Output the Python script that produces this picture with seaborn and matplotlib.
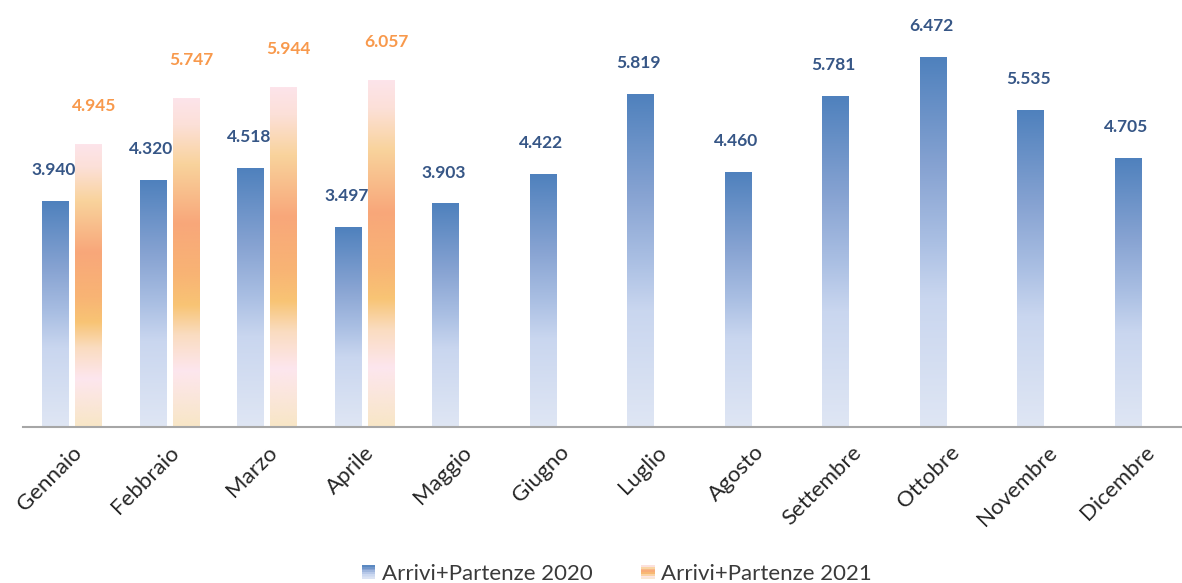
import matplotlib
matplotlib.use("Agg")
import matplotlib.pyplot as plt
import numpy as np
import pandas as pd
import seaborn as sns
from matplotlib.colors import LinearSegmentedColormap
from matplotlib.legend_handler import HandlerBase
from matplotlib.patches import Rectangle

MONTHS = ["Gennaio", "Febbraio", "Marzo", "Aprile", "Maggio", "Giugno",
          "Luglio", "Agosto", "Settembre", "Ottobre", "Novembre", "Dicembre"]
VALUES_2020 = [3940, 4320, 4518, 3497, 3903, 4422, 5819, 4460, 5781, 6472, 5535, 4705]
VALUES_2021 = [4945, 5747, 5944, 6057]
SERIES = ["Arrivi+Partenze 2020", "Arrivi+Partenze 2021"]

rows = [(m, v, SERIES[0]) for m, v in zip(MONTHS, VALUES_2020)]
rows += [(m, v, SERIES[1]) for m, v in zip(MONTHS, VALUES_2021)]
df = pd.DataFrame(rows, columns=["mese", "valore", "serie"])

# gradients, listed bottom -> top
blue_cmap = LinearSegmentedColormap.from_list("blu", [
    (0.0, "#dfe6f4"), (0.35, "#c9d6ef"), (0.5, "#aabfe3"),
    (0.7, "#87a3d2"), (1.0, "#4f81bd")])
orange_cmap = LinearSegmentedColormap.from_list("arancio", [
    (0.0, "#f8e6c6"), (0.17, "#fde6ee"), (0.28, "#fadcc0"), (0.37, "#f8c474"),
    (0.46, "#f8b474"), (0.62, "#f8a77a"), (0.8, "#f9d39c"), (0.92, "#fce0d8"),
    (1.0, "#fde4ea")])
CMAPS = [blue_cmap, orange_cmap]
LABEL_COLORS = ["#365686", "#f8994c"]
LABEL_OFFSETS = [(-1, 19), (4, 24)]

sns.set_style("white")
plt.rcParams["font.family"] = ["Lato", "DejaVu Sans"]

fig = plt.figure(figsize=(11.82, 5.83), dpi=100)
ax = fig.add_axes([23 / 1182, 156 / 583, 1159 / 1182, 427 / 583])

sns.barplot(data=df, x="mese", y="valore", hue="serie", order=MONTHS,
            hue_order=SERIES, width=0.677, gap=0.21, dodge=True,
            legend=False, ax=ax)

grad = np.linspace(0, 1, 256).reshape(-1, 1)
for cont, cmap, lc, off in zip(ax.containers, CMAPS, LABEL_COLORS, LABEL_OFFSETS):
    for bar in cont:
        h = bar.get_height()
        if not np.isfinite(h) or h == 0:
            continue
        x0 = bar.get_x()
        x1 = x0 + bar.get_width()
        ax.imshow(grad, extent=[x0, x1, 0, h], origin="lower", aspect="auto",
                  cmap=cmap, zorder=2, interpolation="bilinear")
        bar.set_facecolor("none")
        bar.set_edgecolor("none")
        ax.annotate(f"{int(h):,}".replace(",", "."), ((x0 + x1) / 2, h),
                    xytext=off, textcoords="offset points", ha="center",
                    va="baseline", fontsize=12.5, fontweight="bold", color=lc)

ax.set_xlim(-0.5, 1159 / 97.5 - 0.5)
ax.set_ylim(0, 7470)

ax.set_xlabel("")
ax.set_ylabel("")
ax.set_yticks([])
ax.tick_params(axis="x", length=0, pad=11)
plt.setp(ax.get_xticklabels(), rotation=45, ha="right", rotation_mode="anchor",
         fontsize=16, color="#262626")
for side in ["left", "right", "top"]:
    ax.spines[side].set_visible(False)
ax.spines["bottom"].set_color("#a6a6a6")
ax.spines["bottom"].set_linewidth(1.5)


class GradientHandler(HandlerBase):
    def __init__(self, cmap):
        super().__init__()
        self.cmap = cmap

    def create_artists(self, legend, orig_handle, xdescent, ydescent,
                       width, height, fontsize, trans):
        n = 8
        arts = []
        for i in range(n):
            r = Rectangle((-xdescent, -ydescent + height * i / n), width, height / n,
                          facecolor=self.cmap((i + 0.5) / n), edgecolor="none",
                          transform=trans)
            arts.append(r)
        return arts


handles = [Rectangle((0, 0), 1, 1, label=s) for s in SERIES]
fig.legend(handles=handles, labels=SERIES, loc="lower center",
           bbox_to_anchor=(0.522, -0.036), ncol=2, frameon=False,
           fontsize=16, handlelength=0.6, handleheight=0.6,
           handletextpad=0.3, columnspacing=2.2, labelcolor="#3a3a3a",
           handler_map={handles[0]: GradientHandler(blue_cmap),
                        handles[1]: GradientHandler(orange_cmap)})

fig.savefig("out.png", dpi=100)
